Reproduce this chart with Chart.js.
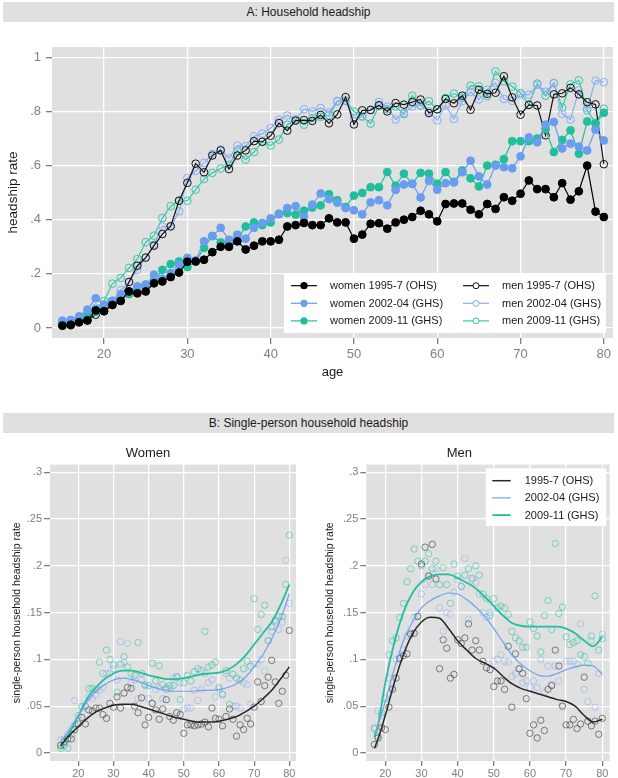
<!DOCTYPE html>
<html><head><meta charset="utf-8">
<script src="https://cdn.jsdelivr.net/npm/chart.js@4.4.1/dist/chart.umd.min.js"></script>
<style>
html,body{margin:0;padding:0;background:#fff;}
body{width:618px;height:778px;position:relative;overflow:hidden;font-family:"Liberation Sans",Arial,sans-serif;}
.strip{position:absolute;left:3px;width:611px;height:20px;background:#e0e0e0;color:#1a1a1a;font-size:12px;line-height:20px;text-align:center;}
canvas{position:absolute;}
</style></head><body>
<div class="strip" style="top:2px">A: Household headship</div>
<div class="strip" style="top:413px">B: Single-person household headship</div>
<canvas id="cA" width="618" height="360" style="left:0;top:30px;width:618px;height:360px"></canvas>
<canvas id="cW" width="309" height="338" style="left:0;top:440px;width:309px;height:338px"></canvas>
<canvas id="cM" width="309" height="338" style="left:309px;top:440px;width:309px;height:338px"></canvas>
<script>
// ---------- DATA ----------
const agesA = [15,16,17,18,19,20,21,22,23,24,25,26,27,28,29,30,31,32,33,34,35,36,37,38,39,40,41,42,43,44,45,46,47,48,49,50,51,52,53,54,55,56,57,58,59,60,61,62,63,64,65,66,67,68,69,70,71,72,73,74,75,76,77,78,79,80];
const agesMen = [17,18,19,20,21,22,23,24,25,26,27,28,29,30,31,32,33,34,35,36,37,38,39,40,41,42,43,44,45,46,47,48,49,50,51,52,53,54,55,56,57,58,59,60,61,62,63,64,65,66,67,68,69,70,71,72,73,74,75,76,77,78,79,80];

const seriesLabelsA = ['women 1995-7 (OHS)','women 2002-04 (GHS)','women 2009-11 (GHS)','men 1995-7 (OHS)','men 2002-04 (GHS)','men 2009-11 (GHS)'];
const seriesLabelsB = ['1995-7 (OHS)','2002-04 (GHS)','2009-11 (GHS)'];

const womenA_1995 = [.009,.012,.021,.028,.065,.062,.085,.100,.135,.128,
 .135,.165,.172,.188,.205,.245,.246,.252,.280,.300,
 .300,.320,.290,.304,.320,.320,.326,.375,.380,.388,
 .380,.380,.405,.390,.390,.330,.345,.385,.387,.367,
 .390,.400,.410,.433,.420,.394,.458,.460,.460,.437,
 .420,.458,.440,.483,.470,.496,.545,.513,.513,.483,
 .535,.474,.505,.600,.430,.410];
const womenA_2002 = [.027,.030,.043,.068,.110,.086,.100,.125,.135,.154,
 .160,.197,.182,.203,.235,.259,.250,.320,.339,.370,
 .326,.345,.330,.370,.388,.405,.420,.443,.450,.410,
 .456,.497,.476,.463,.443,.435,.420,.464,.472,.453,
 .510,.530,.532,.482,.544,.511,.535,.538,.575,.618,
 .560,.530,.600,.594,.590,.634,.704,.686,.751,.761,
 .663,.681,.670,.656,.733,.693];
const womenA_2009 = [.016,.018,.028,.043,.060,.083,.100,.110,.125,.150,
 .160,.175,.215,.236,.246,.225,.245,.296,.340,.316,
 .320,.323,.375,.390,.380,.390,.422,.425,.419,.433,
 .445,.453,.494,.472,.447,.489,.499,.520,.520,.576,
 .526,.570,.533,.573,.570,.533,.576,.540,.582,.553,
 .523,.600,.603,.624,.690,.690,.690,.700,.735,.650,
 .695,.730,.644,.763,.755,.795];
const menA_1995 = [.008,.010,.022,.028,.049,.062,.086,.107,.170,.230,
 .260,.304,.347,.376,.470,.536,.607,.575,.637,.656,
 .587,.637,.656,.690,.688,.710,.757,.729,.766,.768,
 .765,.787,.756,.789,.853,.752,.804,.805,.823,.800,
 .831,.825,.835,.844,.794,.808,.846,.830,.858,.806,
 .880,.865,.869,.930,.852,.788,.824,.822,.712,.863,
 .867,.887,.863,.834,.826,.605];
const menA_2002 = [.020,.025,.040,.060,.075,.080,.100,.140,.170,.215,
 .260,.308,.375,.373,.431,.554,.580,.610,.643,.660,
 .626,.674,.672,.708,.718,.739,.770,.785,.770,.808,
 .800,.813,.796,.839,.838,.776,.780,.807,.835,.818,
 .770,.794,.818,.823,.800,.767,.823,.772,.838,.872,
 .844,.880,.905,.846,.839,.862,.862,.898,.873,.904,
 .791,.770,.878,.812,.914,.908];
const menA_2009 = [.010,.020,.035,.050,.070,.100,.164,.185,.222,.255,
 .317,.341,.406,.450,.470,.470,.511,.550,.573,.589,
 .603,.656,.622,.650,.688,.674,.696,.751,.770,.751,
 .775,.780,.786,.837,.840,.800,.782,.755,.820,.808,
 .818,.790,.858,.822,.838,.808,.850,.866,.850,.895,
 .893,.856,.948,.911,.892,.868,.825,.903,.858,.905,
 .815,.900,.915,.804,.757,.810];

const womenB_1995 = [.008,.012,.015,.015,.025,.031,.038,.031,.046,.045,
 .048,.048,.041,.037,.053,.049,.060,.048,.064,.070,
 .069,.050,.043,.059,.030,.038,.053,.046,.036,.047,
 .057,.039,.035,.043,.041,.021,.030,.030,.029,.030,
 .031,.033,.028,.048,.037,.036,.029,.039,.047,.036,
 .018,.030,.025,.037,.031,.049,.076,.055,.072,.081,
 .099,.076,.053,.066,.083,.131];
const womenB_2002 = [.014,.015,.020,.025,.056,.035,.048,.050,.060,.058,
 .062,.067,.070,.085,.085,.090,.078,.119,.097,.117,
 .075,.078,.058,.078,.072,.058,.053,.068,.070,.058,
 .070,.069,.080,.082,.075,.047,.048,.048,.067,.056,
 .068,.085,.075,.078,.060,.068,.062,.085,.080,.050,
 .050,.048,.075,.073,.052,.095,.095,.100,.088,.120,
 .130,.140,.132,.140,.206,.160];
const womenB_2009 = [.005,.008,.005,.020,.030,.040,.050,.050,.069,.069,
 .068,.097,.085,.110,.100,.094,.065,.095,.103,.092,
 .085,.083,.118,.085,.073,.072,.096,.077,.093,.073,
 .068,.072,.072,.081,.057,.075,.083,.077,.087,.090,
 .088,.130,.092,.094,.097,.070,.063,.088,.052,.084,
 .080,.078,.090,.098,.093,.165,.132,.148,.158,.120,
 .135,.142,.146,.146,.180,.233];
const menB_1995 = [.009,.016,.027,.025,.049,.068,.080,.101,.104,.106,
 .127,.128,.146,.202,.220,.189,.223,.186,.090,.121,
 .112,.080,.084,.121,.117,.123,.138,.110,.120,.110,
 .098,.091,.089,.071,.077,.077,.068,.114,.049,.106,
 .090,.085,.058,.021,.030,.016,.035,.024,.068,.072,
 .110,.093,.050,.030,.030,.036,.026,.031,.081,.034,
 .029,.034,.020,.037];
const menB_2002 = [.027,.045,.040,.060,.080,.070,.100,.102,.110,.125,
 .128,.145,.146,.170,.180,.190,.180,.197,.155,.130,
 .150,.148,.172,.185,.178,.208,.143,.185,.182,.170,
 .150,.145,.150,.098,.100,.105,.098,.097,.082,.085,
 .090,.075,.077,.070,.077,.070,.100,.065,.093,.073,
 .093,.077,.052,.098,.098,.098,.095,.138,.068,.055,
 .120,.049,.085,.127];
const menB_2009 = [.026,.018,.043,.058,.105,.120,.123,.145,.160,.183,
 .197,.218,.205,.200,.205,.213,.197,.205,.180,.198,
 .180,.160,.202,.189,.178,.190,.197,.187,.200,.190,
 .170,.165,.147,.165,.155,.157,.155,.148,.130,.123,
 .120,.113,.113,.140,.133,.125,.108,.147,.163,.132,
 .224,.149,.156,.124,.116,.118,.120,.105,.103,.096,
 .125,.168,.110,.122];

// smoothed curves
const smoothAgesWomen = [15,17,20,22.5,25,27.5,30,32.5,35,37.5,40,42.5,45,47.5,50,52.5,55,57.5,60,62.5,65,67.5,70,72.5,75,77.5,80];
const womenSmooth_1995 = [.008,.017,.028,.037,.044,.048,.051,.052,.052,.050,.047,.044,.041,.038,.036,.034,.033,.033,.034,.036,.039,.044,.050,.058,.067,.079,.092];
const womenSmooth_2002 = [.012,.022,.040,.055,.066,.073,.078,.080,.079,.076,.072,.069,.067,.066,.066,.066,.067,.067,.068,.070,.074,.081,.092,.105,.122,.143,.170];
const womenSmooth_2009 = [.006,.018,.040,.058,.070,.079,.085,.088,.088,.086,.083,.081,.079,.079,.080,.082,.084,.085,.086,.089,.095,.104,.116,.128,.140,.158,.180];
const smoothAgesMen = [17,18,20,22.5,25,27.5,30,32.5,35,37.5,40,42.5,45,47.5,50,52.5,55,57.5,60,62.5,65,67.5,70,72.5,75,77.5,80];
const menSmooth_1995 = [.005,.015,.040,.075,.105,.127,.140,.145,.144,.133,.120,.110,.101,.096,.091,.082,.074,.069,.066,.063,.060,.057,.055,.050,.040,.033,.036];
const menSmooth_2002 = [.020,.030,.055,.090,.120,.140,.155,.163,.168,.171,.170,.164,.156,.146,.133,.119,.105,.095,.088,.083,.082,.085,.089,.092,.094,.093,.084];
const menSmooth_2009 = [.017,.030,.075,.118,.150,.171,.183,.189,.191,.191,.187,.182,.176,.167,.157,.147,.139,.136,.135,.135,.135,.135,.133,.128,.120,.114,.124];

// ticks
const xTicksA = [20,30,40,50,60,70,80];
const yTicksA = [0,0.2,0.4,0.6,0.8,1];
const yTickLabelsA = ['0','.2','.4','.6','.8','1'];
const xTicksB = [20,30,40,50,60,70,80];
const yTicksB = [0,0.05,0.1,0.15,0.2,0.25,0.3];
const yTickLabelsB = ['0','.05','.1','.15','.2','.25','.3'];

// ---------- STYLE ----------
const FONT = '"Liberation Sans", Arial, Helvetica, sans-serif';
const PANEL_BG = '#e0e0e0';
const TICK_COL = '#7f7f7f';
const C_BLACK = '#000000', C_BLUE = '#6a9cf0', C_TEAL = '#1fbf9c';
const C_BLUE_M = '#88aef4', C_TEAL_M = '#36c7a9';

const pts = (xs, ys) => xs.map((x, i) => ({x: x, y: ys[i]}));

const bgPlugin = {
  id: 'panelbg',
  beforeDraw(chart) {
    const {ctx, chartArea: a} = chart;
    ctx.save();
    ctx.fillStyle = PANEL_BG;
    ctx.fillRect(a.left, a.top, a.right - a.left, a.bottom - a.top);
    ctx.restore();
  }
};

function setTicks(list) { return (scale) => { scale.ticks = list.map(v => ({value: v})); }; }

function axisCommon(fontSize) {
  return {
    grid: {color: '#ffffff', lineWidth: 1.3, tickColor: TICK_COL, tickLength: 6, drawTicks: true},
    border: {display: false},
    ticks: {color: TICK_COL, font: {family: FONT, size: fontSize}, autoSkip: false, maxRotation: 0}
  };
}

// ---------- PANEL A ----------
function dsA(label, ys, color, filled) {
  return {
    label: label,
    data: pts(agesA, ys),
    borderColor: color,
    backgroundColor: filled ? color : 'rgba(0,0,0,0)',
    pointBackgroundColor: filled ? color : 'rgba(0,0,0,0)',
    pointBorderColor: color,
    pointRadius: filled ? 3.9 : 3.8,
    pointBorderWidth: 1,
    borderWidth: 1.2,
    tension: 0,
    filled: filled
  };
}

const legendA = {
  id: 'legendA',
  afterDraw(chart) {
    const ctx = chart.ctx;
    ctx.save();
    ctx.fillStyle = '#ffffff';
    ctx.fillRect(284, 244, 322, 59);
    ctx.font = '11px ' + FONT;
    ctx.textBaseline = 'middle';
    ctx.textAlign = 'left';
    chart.data.datasets.forEach((ds, i) => {
      const col = i < 3 ? 0 : 1, row = i % 3;
      const lx = col === 0 ? 291 : 463;
      const ly = 255.7 + row * 17.6;
      ctx.strokeStyle = ds.borderColor;
      ctx.lineWidth = 1.2;
      ctx.beginPath(); ctx.moveTo(lx, ly); ctx.lineTo(lx + 26, ly); ctx.stroke();
      ctx.beginPath();
      if (ds.filled) {
        ctx.fillStyle = ds.borderColor;
        ctx.arc(lx + 13, ly, 3.6, 0, Math.PI * 2); ctx.fill();
      } else {
        ctx.fillStyle = '#ffffff';
        ctx.arc(lx + 13, ly, 3, 0, Math.PI * 2); ctx.fill(); ctx.lineWidth = 1; ctx.stroke();
      }
      ctx.fillStyle = '#1a1a1a';
      ctx.fillText(ds.label, lx + 39, ly + 0.5);
    });
    ctx.restore();
  }
};

const axA = axisCommon(13);
new Chart(document.getElementById('cA'), {
  type: 'line',
  data: {
    datasets: [
      dsA(seriesLabelsA[0], womenA_1995, C_BLACK, true),
      dsA(seriesLabelsA[1], womenA_2002, C_BLUE, true),
      dsA(seriesLabelsA[2], womenA_2009, C_TEAL, true),
      dsA(seriesLabelsA[3], menA_1995, '#111111', false),
      dsA(seriesLabelsA[4], menA_2002, C_BLUE_M, false),
      dsA(seriesLabelsA[5], menA_2009, C_TEAL_M, false)
    ]
  },
  options: {
    responsive: false, animation: false, devicePixelRatio: 1,
    layout: {padding: {top: 17, right: 3, bottom: 6, left: 0}},
    plugins: {legend: {display: false}, tooltip: {enabled: false}},
    scales: {
      x: {
        type: 'linear', min: 13.75, max: 81.1,
        afterBuildTicks: setTicks(xTicksA),
        afterFit: (s) => { s.height = 46; },
        grid: axA.grid, border: axA.border,
        ticks: Object.assign({}, axA.ticks, {padding: 3}),
        title: {display: true, text: 'age', color: '#1a1a1a', font: {family: FONT, size: 13}, padding: {top: 0, bottom: 4}}
      },
      y: {
        type: 'linear', min: -0.037, max: 1.038,
        afterBuildTicks: setTicks(yTicksA),
        afterFit: (s) => { s.width = 52; },
        grid: axA.grid, border: axA.border,
        ticks: Object.assign({}, axA.ticks, {padding: 5, callback: (v) => { const k = yTicksA.indexOf(v); return k >= 0 ? yTickLabelsA[k] : ''; }}),
        title: {display: true, text: 'headship rate', color: '#1a1a1a', font: {family: FONT, size: 13.5}, padding: {top: 5, bottom: 0}}
      }
    }
  },
  plugins: [bgPlugin, legendA]
});

// ---------- PANEL B ----------
const lineStyles = [
  {color: '#262626', width: 1.5},
  {color: '#6ea2f0', width: 1.2},
  {color: '#22bf9f', width: 1.8}
];
const dotColors = ['rgba(60,60,60,0.7)', 'rgba(110,155,240,0.45)', 'rgba(34,190,155,0.6)'];

function smoothDs(label, xs, ys, k) {
  return {type: 'line', label: label, data: pts(xs, ys), borderColor: lineStyles[k].color, borderWidth: lineStyles[k].width,
    pointRadius: 0, tension: 0.4, cubicInterpolationMode: 'monotone', fill: false, order: 0, isSmooth: true};
}
function dotDs(label, xs, ys, k) {
  return {type: 'scatter', label: label, data: pts(xs, ys), showLine: false, pointRadius: 3.2, pointBorderWidth: 0.9,
    pointBorderColor: dotColors[k], pointBackgroundColor: 'rgba(0,0,0,0)', borderColor: dotColors[k], order: 1, isSmooth: false};
}

const legendB = {
  id: 'legendB',
  afterDraw(chart) {
    const ctx = chart.ctx;
    ctx.save();
    ctx.fillStyle = '#ffffff';
    ctx.fillRect(176.7, 28.3, 120.6, 57.7);
    ctx.font = '11px ' + FONT;
    ctx.textBaseline = 'middle';
    ctx.textAlign = 'left';
    chart.data.datasets.filter(d => d.isSmooth).forEach((ds, i) => {
      const ly = 40.7 + i * 17.2;
      ctx.strokeStyle = ds.borderColor; ctx.lineWidth = ds.borderWidth;
      ctx.beginPath(); ctx.moveTo(183.3, ly); ctx.lineTo(201.7, ly); ctx.stroke();
      ctx.fillStyle = '#1a1a1a';
      ctx.fillText(ds.label, 215.7, ly + 0.5);
    });
    ctx.restore();
  }
};

function panelB(canvasId, title, xs, dots, sxs, smooths, xmin, xmax, yWidth, padRight, titlePad, withLegend) {
  const ax = axisCommon(11);
  const datasets = [];
  smooths.forEach((s, k) => datasets.push(smoothDs(seriesLabelsB[k], sxs, s, k)));
  dots.forEach((d, k) => datasets.push(dotDs(seriesLabelsB[k] + ' obs', xs, d, k)));
  const plugins = [bgPlugin];
  if (withLegend) plugins.push(legendB);
  return new Chart(document.getElementById(canvasId), {
    type: 'scatter',
    data: {datasets: datasets},
    options: {
      responsive: false, animation: false, devicePixelRatio: 1,
      layout: {padding: {top: 0, right: padRight, bottom: 0, left: 0}},
      plugins: {
        legend: {display: false}, tooltip: {enabled: false},
        title: {display: true, text: title, color: '#1a1a1a', font: {family: FONT, size: 13, weight: 'normal'}, padding: {top: 6, bottom: 3}}
      },
      scales: {
        x: {
          type: 'linear', min: xmin, max: xmax,
          afterBuildTicks: setTicks(xTicksB),
          afterFit: (s) => { s.height = 17; },
          grid: Object.assign({}, ax.grid, {tickLength: 5}), border: ax.border,
          ticks: Object.assign({}, ax.ticks, {padding: 1}),
          title: {display: false}
        },
        y: {
          type: 'linear', min: -0.0086, max: 0.3083,
          afterBuildTicks: setTicks(yTicksB),
          afterFit: (s) => { s.width = yWidth; },
          grid: ax.grid, border: ax.border,
          ticks: Object.assign({}, ax.ticks, {padding: 2, callback: (v) => { const k = yTicksB.indexOf(v); return k >= 0 ? yTickLabelsB[k] : ''; }}),
          title: {display: true, text: 'single-person household headship rate', color: '#1a1a1a', font: {family: FONT, size: 10.5}, padding: {top: titlePad, bottom: 0}}
        }
      }
    },
    plugins: plugins
  });
}

panelB('cW', 'Women', agesA, [womenB_1995, womenB_2002, womenB_2009], smoothAgesWomen,
  [womenSmooth_1995, womenSmooth_2002, womenSmooth_2009], 11.95, 81.9, 50, 13, 10.7, false);
panelB('cM', 'Men', agesMen, [menB_1995, menB_2002, menB_2009], smoothAgesMen,
  [menSmooth_1995, menSmooth_2002, menSmooth_2009], 14.75, 82.05, 57.3, 8.3, 14.4, true);
</script>
</body></html>
